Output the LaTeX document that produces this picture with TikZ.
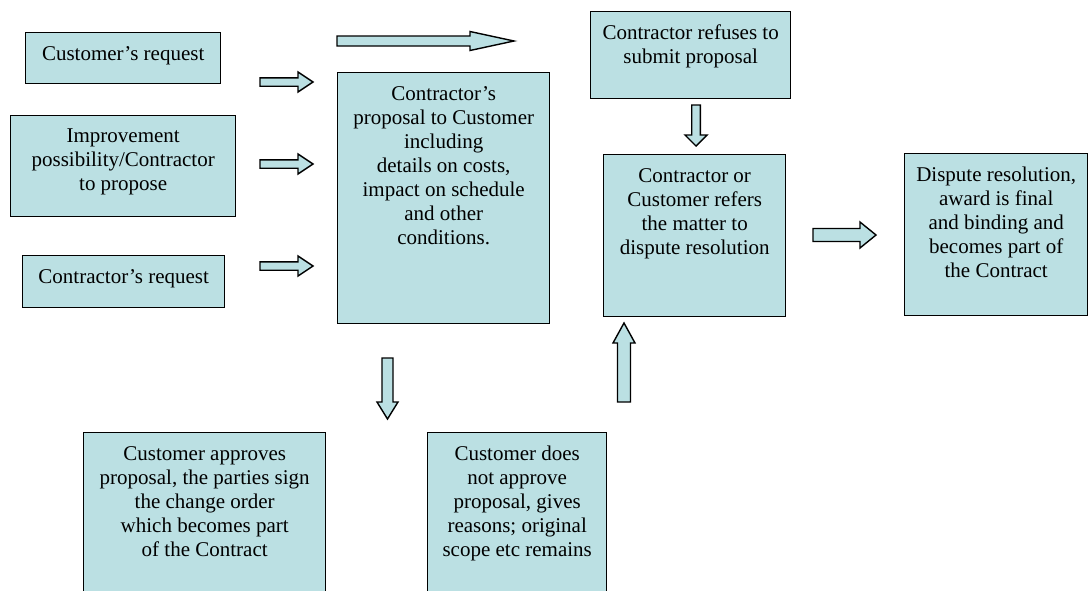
\documentclass[tikz,border=0pt]{standalone}
\usepackage{fontspec}
\setmainfont{Liberation Serif}
\definecolor{boxcyan}{RGB}{187,224,227}

\tikzset{
  box/.style={draw=black, line width=1.4pt, fill=boxcyan, inner sep=0pt, anchor=north west},
  boxtext/.style={anchor=north, align=center, inner sep=0pt, yshift=-14pt},
  fatarrow/.style={draw=black, line width=1.4pt, fill=boxcyan, line join=miter},
  % #1 half shaft, #2 half head, #3 head length, #4 total length
  pics/blockarrow/.style n args={4}{code={
    \draw[fatarrow] (0,-#1) -- (#4-#3,-#1) -- (#4-#3,-#2) -- (#4,0)
      -- (#4-#3,#2) -- (#4-#3,#1) -- (0,#1) -- cycle;
  }}
}

\begin{document}
\begin{tikzpicture}[x=1pt, y=-1pt, font=\fontsize{21}{24}\selectfont]
  \clip (0,0) rectangle (1088,590);

  % Requests on the left
  \node[box, minimum width=195pt, minimum height=51pt] (custreq) at (25,32) {};
  \node[boxtext] at (custreq.north) {Customer’s request};

  \node[box, minimum width=225pt, minimum height=101pt] (improve) at (10,115) {};
  \node[boxtext] at (improve.north) {Improvement\\possibility/Contractor\\to propose};

  \node[box, minimum width=202pt, minimum height=52pt] (contreq) at (22,255) {};
  \node[boxtext] at (contreq.north) {Contractor’s request};

  \pic at (260,82)  {blockarrow={4.2}{10}{15}{53}};
  \pic at (260,164) {blockarrow={4.2}{10}{15}{53}};
  \pic at (260,266) {blockarrow={4.2}{10}{15}{53}};

  % Proposal
  \node[box, minimum width=212pt, minimum height=251pt] (proposal) at (337,72) {};
  \node[boxtext] at (proposal.north) {Contractor’s\\proposal to Customer\\including\\details on costs,\\impact on schedule\\and other\\conditions.};

  \pic at (337,41) {blockarrow={5}{9.5}{44}{177}};

  % Refusal and dispute
  \node[box, minimum width=200pt, minimum height=87pt] (refuse) at (590,11) {};
  \node[boxtext] at (refuse.north) {Contractor refuses to\\submit proposal};

  \pic[rotate=-90] at (696,105) {blockarrow={4.3}{11}{11}{41}};

  \node[box, minimum width=182pt, minimum height=162pt] (refer) at (603,154) {};
  \node[boxtext] at (refer.north) {Contractor or\\Customer refers\\the matter to\\dispute resolution};

  \pic at (813,235) {blockarrow={6.5}{13}{16}{63}};

  \node[box, minimum width=183pt, minimum height=162pt] (dispute) at (904,153) {};
  \node[boxtext] at (dispute.north) {Dispute resolution,\\award is final\\and binding and\\becomes part of\\the Contract};

  % Customer decision
  \pic[rotate=-90] at (387.5,358) {blockarrow={5.5}{10.5}{17}{61}};
  \pic[rotate=90] at (624,402) {blockarrow={6.5}{11}{20}{79}};

  \node[box, minimum width=242pt, minimum height=170pt] (approve) at (83,432) {};
  \node[boxtext] at (approve.north) {Customer approves\\proposal, the parties sign\\the change order\\which becomes part\\of the Contract};

  \node[box, minimum width=179pt, minimum height=170pt] (reject) at (427,432) {};
  \node[boxtext] at (reject.north) {Customer does\\not approve\\proposal, gives\\reasons; original\\scope etc remains};
\end{tikzpicture}
\end{document}
